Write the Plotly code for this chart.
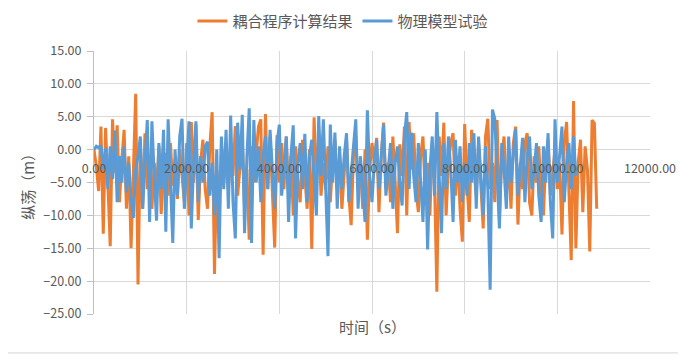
import plotly.graph_objects as go

SAMPLE_STEP_S = 50

coupled_calc = [  # 耦合程序计算结果 (orange)
    0.0, -2.5, -6.3, 3.5, -12.8, 3.3, -5.2, -14.7, 4.6, -3.5, 3.7, -8.0, -1.5, 3.0, -9.0, -1.0, -15.0, -2.0, 8.5, -20.5,
    1.0, -9.0, 2.5, -6.0, -1.0, -9.0, -2.0, -6.5, 0.5, -9.8, -3.0, -0.5, -7.0, 1.0, -5.5, -1.5, -7.5, 0.0, -4.0, -8.0,
    1.0, -10.0, 4.2, -5.0, 3.8, -10.7, -2.0, 1.5, -6.0, -9.0, 0.5, 5.7, -18.9, -3.0, -9.0, 1.0, -5.0, -1.0, -6.0, 0.0,
    -4.0, 3.6, -7.0, -2.0, 1.5, -9.0, -3.0, -13.7, 0.5, -5.0, -1.0, 3.5, 4.6, -16.0, 5.4, -6.0, 2.0, -8.0, -14.9, 2.2,
    -5.0, 1.0, -6.0, 2.0, -7.0, -1.0, -10.0, 0.5, -5.0, -8.0, 1.5, -4.0, -9.0, 0.0, -15.1, 4.9, -5.0, 2.0, -7.0, -2.0,
    -6.0, 0.5, -8.0, -2.0, 1.5, -6.0, -1.0, -9.0, -3.0, 1.7, -7.0, -11.5, -1.0, 2.0, -6.0, -2.5, -9.0, 0.0, -13.7, -3.0,
    1.0, -2.0, 1.8, -9.5, -1.0, 4.1, -6.0, -2.0, -8.0, 2.0, -5.0, -12.7, 0.8, -4.0, 3.5, -10.0, 4.2, -3.0, 2.5, -6.0,
    -9.5, -1.0, 2.0, -7.0, -2.0, -10.0, 1.0, -5.0, -21.6, 2.0, -4.0, 4.1, -10.0, -2.0, 1.0, 2.5, -7.0, -1.0, -9.0, -14.0,
    3.9, -5.0, -11.0, 3.0, -3.0, -7.0, 1.0, -5.0, -12.0, 2.0, 4.7, -6.0, -2.0, -8.0, 4.5, -10.5, -1.0, 2.0, -7.0, -1.5,
    -9.0, 1.0, 3.5, -11.4, -2.0, -6.0, 1.0, 2.5, -8.0, -10.0, -1.0, -5.0, 0.5, -7.0, -10.0, -1.5, 1.5, -7.0, -3.0, 0.0,
    -6.0, -2.0, -12.9, 1.0, 4.2, -8.0, -16.8, 7.4, -15.0, -2.0, 1.5, -9.5, 0.5, -3.0, -15.5, 4.5, 4.0, -9.0,
]

model_test = [  # 物理模型试验 (blue)
    0.0, 0.5, 0.3, 0.6, -3.0, 0.2, -6.0, 0.5, -4.5, 2.9, -8.0, -1.0, -5.0, 0.5, -6.5, -2.0, -7.5, -10.4, -3.0, -1.0,
    2.0, -9.0, -2.0, 4.5, -11.0, 4.3, -4.0, -10.8, 1.0, -6.0, 3.0, -12.5, 4.6, -5.0, -14.2, 0.0, -7.0, 2.0, 4.7, -9.0,
    -3.0, 4.3, -12.0, -2.0, 4.3, -8.0, -1.0, -5.0, 0.5, 1.2, -7.0, -2.0, -10.0, 0.0, -16.5, 2.0, -6.0, 3.0, -9.0, 5.2,
    -8.0, -13.5, 4.1, -3.0, 5.3, -12.7, -1.0, 6.3, -14.2, 4.5, -5.0, 0.5, -8.0, -1.0, 2.0, -6.0, 3.0, -4.0, -9.0, 1.0,
    3.8, -7.0, -2.0, 2.0, -11.0, -1.0, 3.7, -13.5, -2.0, 1.0, -6.0, 2.4, -8.0, -1.0, 1.5, -5.0, -10.0, 5.1, -4.0, 4.6,
    -7.0, -16.2, 3.8, -5.0, 2.6, -9.0, 0.5, -6.0, -1.0, 2.5, -8.0, -3.0, 0.5, 4.6, -9.0, -1.0, -6.0, -11.0, 6.0, -4.0,
    -8.0, -2.0, 1.5, -6.0, -1.0, 3.8, -7.0, -3.0, 1.0, -9.0, -2.0, 0.5, -5.0, -8.5, 2.0, 5.7, -6.0, 2.6, -4.0, -8.0,
    1.0, -5.0, -11.0, 0.0, -15.2, -3.0, 2.0, -7.0, 5.7, -4.0, -12.7, 1.0, -6.0, 2.0, -3.0, -11.0, 1.5, -5.0, 0.5, -8.0,
    -2.0, -7.0, 1.0, -5.0, 2.5, -9.0, 2.0, -4.0, -10.0, 0.5, -6.0, -21.3, 6.1, 4.7, -5.0, -12.0, 1.0, -3.0, -9.0, 2.0,
    -5.0, -1.0, 3.1, -7.0, -2.0, 1.8, -8.0, -1.0, 2.0, -6.0, -3.0, 1.0, -7.0, -11.0, 0.5, -5.0, 2.5, -8.0, -13.5, 4.6,
    -5.0, -1.0, 3.5, -8.0, -2.0, 1.0, -6.0, 2.0, -4.0,
]

time_coupled = [i * SAMPLE_STEP_S for i in range(len(coupled_calc))]
time_model = [i * SAMPLE_STEP_S for i in range(len(model_test))]

x_ticks = [0, 2000, 4000, 6000, 8000, 10000, 12000]
y_ticks = [15, 10, 5, 0, -5, -10, -15, -20, -25]

series_names = ["耦合程序计算结果", "物理模型试验"]
x_title = "时间（s）"
y_title = "纵荡（m）"

# ---- figure ----
FONT = "Noto Sans CJK SC, Liberation Sans, sans-serif"
ORANGE = "#ED7D31"
BLUE = "#5B9BD5"
GRID = "#D9D9D9"
TXT = "#595959"

fig = go.Figure()
fig.add_trace(go.Scatter(x=time_coupled, y=coupled_calc, mode="lines", name=series_names[0],
                         line=dict(color=ORANGE, width=3)))
fig.add_trace(go.Scatter(x=time_model, y=model_test, mode="lines", name=series_names[1],
                         line=dict(color=BLUE, width=3)))

y_min, y_max = -25, 15
zero_pos = (0 - y_min) / (y_max - y_min)

# the page body has an 8 px margin, so the figure is 8 px smaller than the window
fig.update_layout(
    width=678, height=355,
    margin=dict(l=86, r=36, t=43, b=49, autoexpand=False),
    paper_bgcolor="white", plot_bgcolor="white",
    font=dict(family=FONT, color=TXT, size=13),
    showlegend=True,
    legend=dict(orientation="h", xref="container", x=0.494, xanchor="center",
                yref="container", y=0.963, yanchor="middle",
                font=dict(size=15, color=TXT), itemwidth=30, tracegroupgap=0,
                bgcolor="rgba(0,0,0,0)"),
    xaxis=dict(range=[0, 12000], tickvals=x_ticks, tickformat=".2f",
               showgrid=True, gridcolor=GRID, gridwidth=1, zeroline=False,
               showline=False, anchor="free", position=zero_pos,
               ticks="outside", ticklen=7, tickcolor="rgba(0,0,0,0)",
               tickfont=dict(size=12.5, color=TXT), automargin=False),
    yaxis=dict(range=[y_min, y_max], tickvals=y_ticks, tickformat=".2f",
               showgrid=True, gridcolor=GRID, gridwidth=1, zeroline=False,
               showline=True, linecolor="#BFBFBF", linewidth=1,
               ticks="outside", ticklen=6, tickcolor="#BFBFBF",
               ticklabelstandoff=3,
               tickfont=dict(size=12.5, color=TXT), automargin=False),
    annotations=[
        dict(text=x_title, xref="paper", yref="paper", x=0.5, y=-0.046,
             xanchor="center", yanchor="middle", showarrow=False,
             font=dict(size=15, color=TXT)),
        dict(text=y_title, xref="paper", yref="paper", x=-0.12, y=0.5,
             xanchor="center", yanchor="middle", textangle=-90, showarrow=False,
             font=dict(size=15, color=TXT)),
    ],
    shapes=[
        dict(type="line", xref="paper", yref="paper", x0=-0.2, x1=1.1,
             y0=-0.148, y1=-0.148, line=dict(color="#D4D4D4", width=1)),
    ],
)

fig.write_html("out.html")
